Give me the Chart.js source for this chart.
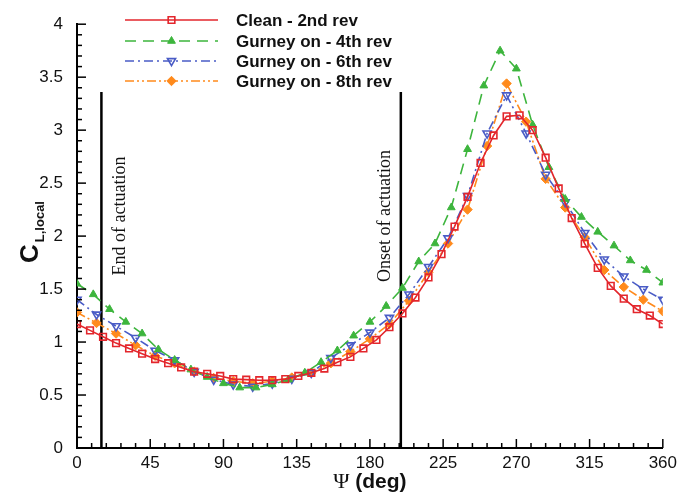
<!DOCTYPE html>
<html>
<head>
<meta charset="utf-8">
<script src="https://cdn.jsdelivr.net/npm/chart.js@4"></script>
<style>
  body { margin: 0; background: #fff; }
  canvas { display: block; }
</style>
</head>
<body>
<canvas id="clChart" width="682" height="495"></canvas>
<script>
// azimuth angles (deg) and local lift coefficient
const cleanPsi = [0, 8, 16, 24, 32, 40, 48, 56, 64, 72, 80, 88, 96, 104, 112, 120, 128, 136, 144, 152, 160, 168, 176, 184, 192,
                  200, 208, 216, 224, 232, 240, 248, 256, 264, 272, 280, 288, 296, 304, 312, 320, 328, 336, 344, 352, 360];
const cleanCl = [1.17, 1.11, 1.05, 0.99, 0.94, 0.89, 0.84, 0.80, 0.76, 0.72, 0.70, 0.68, 0.65, 0.645, 0.64, 0.64, 0.65, 0.68, 0.71, 0.75, 0.81, 0.86, 0.94, 1.02, 1.14,
                 1.27, 1.42, 1.61, 1.83, 2.09, 2.37, 2.69, 2.95, 3.13, 3.14, 3.00, 2.74, 2.45, 2.17, 1.93, 1.70, 1.53, 1.41, 1.31, 1.25, 1.17];

const gurney4Psi = [0, 10, 20, 30, 40, 50, 60, 70, 80, 90, 100, 110, 120, 130, 140, 150, 160, 170, 180,
                    190, 200, 210, 220, 230, 240, 250, 260, 270, 280, 290, 300, 310, 320, 330, 340, 350, 360];
const gurney4Cl = [1.55, 1.45, 1.31, 1.19, 1.08, 0.93, 0.83, 0.74, 0.67, 0.61, 0.57, 0.57, 0.60, 0.645, 0.71, 0.81, 0.92, 1.06, 1.19,
                   1.34, 1.51, 1.76, 1.93, 2.27, 2.82, 3.42, 3.75, 3.58, 3.05, 2.65, 2.35, 2.18, 2.04, 1.91, 1.77, 1.68, 1.56];

const gurney6Psi = [0, 12, 24, 36, 48, 60, 72, 84, 96, 108, 120, 132, 144, 156, 168, 180,
                    192, 204, 216, 228, 240, 252, 264, 276, 288, 300, 312, 324, 336, 348, 360];
const gurney6Cl = [1.40, 1.26, 1.15, 1.04, 0.92, 0.83, 0.72, 0.645, 0.60, 0.58, 0.61, 0.655, 0.71, 0.85, 0.97, 1.09,
                   1.23, 1.45, 1.71, 1.98, 2.38, 2.97, 3.33, 2.97, 2.58, 2.32, 2.03, 1.78, 1.62, 1.50, 1.40];

const gurney8Psi = gurney6Psi;
const gurney8Cl = [1.28, 1.18, 1.08, 0.97, 0.87, 0.80, 0.72, 0.66, 0.63, 0.61, 0.63, 0.665, 0.71, 0.80, 0.91, 1.03,
                   1.17, 1.39, 1.66, 1.93, 2.25, 2.85, 3.44, 3.08, 2.54, 2.27, 1.99, 1.68, 1.52, 1.40, 1.29];

// actuation markers
const actuationPsi = [15, 199];
const actuationTop = 3.36;
const actuationLabels = ['End of actuation', 'Onset of actuation'];

const seriesLabels = ['Clean - 2nd rev', 'Gurney on - 4th rev', 'Gurney on - 6th rev', 'Gurney on - 8th rev'];

const xTicks = [0, 45, 90, 135, 180, 225, 270, 315, 360];
const yTicks = [0, 0.5, 1, 1.5, 2, 2.5, 3, 3.5, 4];

function toPoints(xs, ys) {
    return xs.map((x, i) => ({ x: x, y: ys[i] }));
}

const sansFont = '"Liberation Sans", Arial, sans-serif';
const serifFont = '"Liberation Serif", "Times New Roman", serif';

const datasets = [
    {
        label: seriesLabels[0],
        data: toPoints(cleanPsi, cleanCl),
        borderColor: '#e3262c',
        borderWidth: 1.6,
        pointStyle: 'rect',
        pointRadius: 4.7,
        pointBorderWidth: 1.6,
        pointBorderColor: '#e3262c',
        pointBackgroundColor: 'rgba(255,255,255,0)'
    },
    {
        label: seriesLabels[1],
        data: toPoints(gurney4Psi, gurney4Cl),
        borderColor: '#3db53d',
        borderWidth: 1.6,
        borderDash: [11, 7],
        pointStyle: 'triangle',
        pointRadius: 4.5,
        pointBorderWidth: 1,
        pointBorderColor: '#3db53d',
        pointBackgroundColor: '#3db53d'
    },
    {
        label: seriesLabels[2],
        data: toPoints(gurney6Psi, gurney6Cl),
        borderColor: '#4a5cc6',
        borderWidth: 1.6,
        borderDash: [9, 4, 2, 4],
        pointStyle: 'triangle',
        pointRotation: 180,
        pointRadius: 4.7,
        pointBorderWidth: 1.6,
        pointBorderColor: '#4a5cc6',
        pointBackgroundColor: 'rgba(255,255,255,0)'
    },
    {
        label: seriesLabels[3],
        data: toPoints(gurney8Psi, gurney8Cl),
        borderColor: '#ff8a1c',
        borderWidth: 1.6,
        borderDash: [9, 3, 2, 3, 2, 3],
        pointStyle: 'rectRot',
        pointRadius: 4.7,
        pointBorderWidth: 1,
        pointBorderColor: '#ff8a1c',
        pointBackgroundColor: '#ff8a1c'
    }
];

// vertical actuation lines as plain line datasets
actuationPsi.forEach(psi => {
    datasets.push({
        label: '',
        data: [{ x: psi, y: 0 }, { x: psi, y: actuationTop }],
        borderColor: '#000',
        borderWidth: 2.5,
        pointRadius: 0
    });
});

// Inward ticks, annotations, legend and axis titles
const extrasPlugin = {
    id: 'extras',
    afterDraw(chart) {
        const ctx = chart.ctx;
        const xs = chart.scales.x;
        const ys = chart.scales.y;
        const area = chart.chartArea;

        ctx.save();
        ctx.strokeStyle = '#000';
        ctx.lineWidth = 1.5;
        // x ticks: major every 45, minor every 9
        for (let v = 0; v <= 360; v += 9) {
            const px = xs.getPixelForValue(v);
            const len = (v % 45 === 0) ? 9 : 5;
            ctx.beginPath();
            ctx.moveTo(px, area.bottom);
            ctx.lineTo(px, area.bottom - len);
            ctx.stroke();
        }
        // y ticks: major every 0.5, minor every 0.1
        for (let i = 0; i <= 40; i++) {
            const py = ys.getPixelForValue(i / 10);
            const len = (i % 5 === 0) ? 9 : 5;
            ctx.beginPath();
            ctx.moveTo(area.left, py);
            ctx.lineTo(area.left + len, py);
            ctx.stroke();
        }

        // rotated actuation labels
        ctx.fillStyle = '#111';
        ctx.font = '18px ' + serifFont;
        ctx.textAlign = 'center';
        ctx.textBaseline = 'middle';
        const offsets = [19, -16];
        actuationPsi.forEach((psi, i) => {
            ctx.save();
            ctx.translate(xs.getPixelForValue(psi) + offsets[i], ys.getPixelForValue(2.19));
            ctx.rotate(-Math.PI / 2);
            ctx.fillText(actuationLabels[i], 0, 0);
            ctx.restore();
        });

        // legend
        const rowY = [20, 41, 61, 81];
        const x0 = 125, x1 = 218;
        for (let i = 0; i < 4; i++) {
            const ds = chart.data.datasets[i];
            const y = rowY[i];
            ctx.save();
            ctx.strokeStyle = ds.borderColor;
            ctx.lineWidth = ds.borderWidth;
            ctx.setLineDash(ds.borderDash || []);
            ctx.beginPath();
            ctx.moveTo(x0, y);
            ctx.lineTo(x1, y);
            ctx.stroke();
            ctx.setLineDash([]);
            ctx.strokeStyle = ds.pointBorderColor;
            ctx.fillStyle = ds.pointBackgroundColor;
            ctx.lineWidth = ds.pointBorderWidth;
            Chart.helpers.drawPoint(ctx, {
                pointStyle: ds.pointStyle,
                rotation: ds.pointRotation || 0,
                radius: ds.pointRadius,
                borderWidth: ds.pointBorderWidth
            }, (x0 + x1) / 2, y);
            ctx.restore();

            ctx.fillStyle = '#111';
            ctx.font = 'bold 17px ' + sansFont;
            ctx.textAlign = 'left';
            ctx.textBaseline = 'middle';
            ctx.fillText(ds.label, 236, y + 1);
        }

        // x axis title: serif psi + bold (deg)
        ctx.fillStyle = '#111';
        ctx.textBaseline = 'alphabetic';
        ctx.textAlign = 'left';
        ctx.font = '22px ' + serifFont;
        const psiW = ctx.measureText('\u03A8').width;
        ctx.font = 'bold 21px ' + sansFont;
        const degW = ctx.measureText(' (deg)').width;
        const tx = (area.left + area.right) / 2 - (psiW + degW) / 2;
        ctx.font = '22px ' + serifFont;
        ctx.fillText('\u03A8', tx, 488);
        ctx.font = 'bold 21px ' + sansFont;
        ctx.fillText(' (deg)', tx + psiW, 488);

        // y axis title: C with subscript L,local
        ctx.save();
        ctx.translate(30, 232);
        ctx.rotate(-Math.PI / 2);
        ctx.font = 'bold 26px ' + sansFont;
        const cW = ctx.measureText('C').width;
        ctx.font = 'bold 13px ' + sansFont;
        const sW = ctx.measureText('L,local').width;
        const sx = -(cW + sW + 2) / 2;
        ctx.textBaseline = 'middle';
        ctx.font = 'bold 26px ' + sansFont;
        ctx.fillText('C', sx, 1);
        ctx.font = 'bold 13px ' + sansFont;
        ctx.fillText('L,local', sx + cW + 2, 10);
        ctx.restore();

        ctx.restore();
    }
};

const chart = new Chart(document.getElementById('clChart').getContext('2d'), {
    type: 'line',
    data: { datasets: datasets },
    options: {
        responsive: false,
        animation: false,
        events: [],
        layout: { padding: { left: 0, right: 18, top: 16, bottom: 0 } },
        plugins: {
            legend: { display: false },
            tooltip: { enabled: false }
        },
        scales: {
            x: {
                type: 'linear',
                min: 0,
                max: 360,
                afterBuildTicks: s => { s.ticks = xTicks.map(v => ({ value: v })); },
                ticks: { padding: 5, color: '#111', maxRotation: 0, font: { family: sansFont, size: 17 },
                         callback: v => String(v) },
                grid: { drawOnChartArea: false, drawTicks: false },
                border: { color: '#000', width: 2 },
                afterFit: s => { s.height = 47; }
            },
            y: {
                min: 0,
                max: 4,
                afterBuildTicks: s => { s.ticks = yTicks.map(v => ({ value: v })); },
                ticks: { padding: 14, color: '#111', font: { family: sansFont, size: 17 },
                         callback: v => String(v) },
                grid: { drawOnChartArea: false, drawTicks: false },
                border: { color: '#000', width: 2 },
                afterFit: s => { s.width = 77; }
            }
        }
    },
    plugins: [extrasPlugin]
});
</script>
</body>
</html>
